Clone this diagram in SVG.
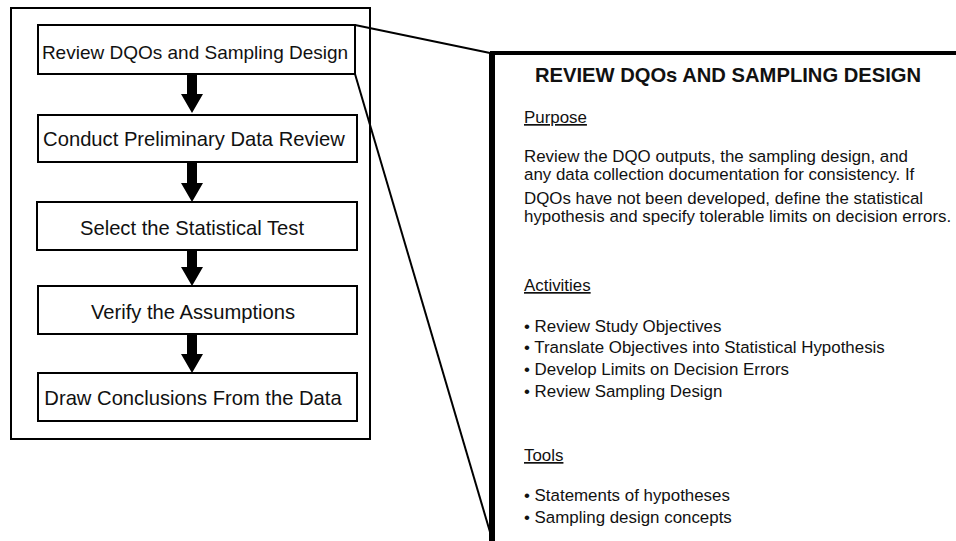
<svg xmlns="http://www.w3.org/2000/svg" width="956" height="541" viewBox="0 0 956 541">
<defs>
<style>
.box{fill:#fff;stroke:#000;stroke-width:2}
.lbl{font-family:"Liberation Sans",Arial,sans-serif;font-size:20.2px;fill:#111;text-anchor:middle}
.t{font-family:"Liberation Sans",Arial,sans-serif;font-size:16.9px;fill:#111}
.h{font-family:"Liberation Sans",Arial,sans-serif;font-size:16.9px;fill:#111;text-decoration:underline}
.title{font-family:"Liberation Sans",Arial,sans-serif;font-size:20.2px;font-weight:bold;fill:#111;text-anchor:middle}
.arr{fill:#000}
.ln{stroke:#000;stroke-width:2;fill:none}
</style>
</defs>
<rect width="956" height="541" fill="#fff"/>
<g id="frame"><rect x="11" y="8" width="359" height="431" class="box"/></g>
<g id="connectors">
<line x1="355" y1="25" x2="490" y2="53" class="ln"/>
<line x1="355" y1="74" x2="490" y2="532" class="ln"/>
<path class="arr" d="M187 74 H197 V94 H203 L192 113 L181 94 H187 Z"/>
<path class="arr" d="M187 162 H197 V183 H203 L192 202 L181 183 H187 Z"/>
<path class="arr" d="M187 250 H197 V267 H203 L192 286 L181 267 H187 Z"/>
<path class="arr" d="M187 334 H197 V354 H203 L192 373 L181 354 H187 Z"/>
</g>
<g id="n1"><rect x="38" y="25" width="317" height="49" class="box"/><text x="195" y="59" class="lbl" style="font-size:19px">Review DQOs and Sampling Design</text></g>
<g id="n2"><rect x="38" y="115" width="319" height="47" class="box"/><text x="194" y="146" class="lbl">Conduct Preliminary Data Review</text></g>
<g id="n3"><rect x="37" y="202" width="320" height="48" class="box"/><text x="192" y="235" class="lbl">Select the Statistical Test</text></g>
<g id="n4"><rect x="38" y="286" width="319" height="48" class="box"/><text x="193" y="319" class="lbl">Verify the Assumptions</text></g>
<g id="n5"><rect x="38" y="373" width="319" height="48" class="box"/><text x="193" y="405" class="lbl">Draw Conclusions From the Data</text></g>
<g id="panel">
<path d="M492 545 V53 H960" fill="none" stroke="#000" stroke-width="4"/>
<path d="M492 545 V53" fill="none" stroke="#000" stroke-width="6"/>
<text x="728" y="82" class="title">REVIEW DQOs AND SAMPLING DESIGN</text>
<text x="524" y="123" class="h">Purpose</text>
<text x="524" y="162" class="t">Review the DQO outputs, the sampling design, and</text>
<text x="524" y="180" class="t">any data collection documentation for consistency.  If</text>
<text x="524" y="204" class="t">DQOs have not been developed, define the statistical</text>
<text x="524" y="222" class="t">hypothesis and specify tolerable limits on decision errors.</text>
<text x="524" y="291" class="h">Activities</text>
<text x="524" y="332" class="t">• Review Study Objectives</text>
<text x="524" y="353" class="t">• Translate Objectives into Statistical Hypothesis</text>
<text x="524" y="375" class="t">• Develop Limits on Decision Errors</text>
<text x="524" y="397" class="t">• Review Sampling Design</text>
<text x="524" y="461" class="h">Tools</text>
<text x="524" y="501" class="t">• Statements of hypotheses</text>
<text x="524" y="523" class="t">• Sampling design concepts</text>
</g>
</svg>
